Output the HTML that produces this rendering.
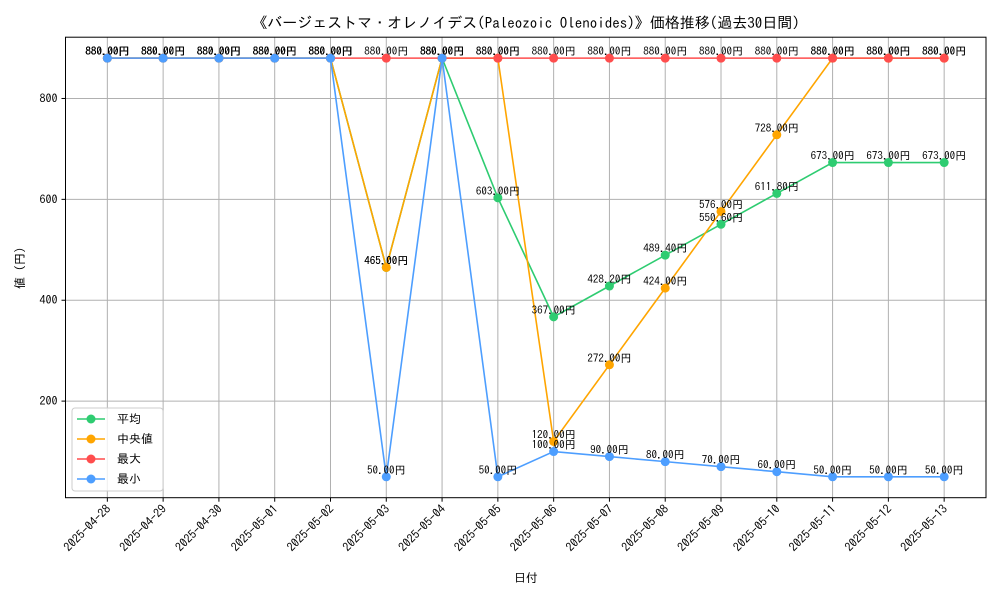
<!DOCTYPE html>
<html><head><meta charset="utf-8"><style>
body{margin:0;background:#fff}
svg{font-family:"IPAGothic","Liberation Sans","Noto Sans CJK JP",sans-serif}
</style></head><body>
<svg id="chart" width="1000" height="600" viewBox="0 0 1000 600" xmlns="http://www.w3.org/2000/svg">
<rect width="1000" height="600" fill="#fff"/>
<text x="526" y="28" text-anchor="middle" font-size="15">《バージェストマ・オレノイデス(Paleozoic Olenoides)》価格推移(過去30日間)</text>
<g id="grid"></g>
<g id="series"></g>
<g id="labels"></g>
<rect x="65.5" y="37.2" width="920.5" height="460.5" fill="none" stroke="#000" stroke-width="1"/>
<g id="axes"></g>
<text transform="translate(24,268) rotate(-90)" text-anchor="middle" font-size="12">値 (円)</text>
<text x="526" y="582" text-anchor="middle" font-size="12">日付</text>
<g id="legend"></g>
</svg>
<script>
const categories=["2025-04-28","2025-04-29","2025-04-30","2025-05-01","2025-05-02","2025-05-03","2025-05-04","2025-05-05","2025-05-06","2025-05-07","2025-05-08","2025-05-09","2025-05-10","2025-05-11","2025-05-12","2025-05-13"];
const avgValues=[880,880,880,880,880,465,880,603,367,428.2,489.4,550.6,611.8,673,673,673];
const medianValues=[880,880,880,880,880,465,880,880,120,272,424,576,728,880,880,880];
const maxValues=[880,880,880,880,880,880,880,880,880,880,880,880,880,880,880,880];
const minValues=[880,880,880,880,880,50,880,50,100,90,80,70,60,50,50,50];
const yTicks=[200,400,600,800];
const seriesNames=["平均","中央値","最大","最小"];
const colors=["#2ecc71","#ffa500","#ff4d4d","#4d9eff"];

const NS="http://www.w3.org/2000/svg";
const L=65.5,R=986,T=37.2,B=497.7;
const allV=[...avgValues,...medianValues,...maxValues,...minValues];
const vmin=Math.min(...allV),vmax=Math.max(...allV),pad=(vmax-vmin)*0.05;
const y0=vmin-pad,y1=vmax+pad;
const n=categories.length,x0=-0.75,x1=n-1+0.75;
const X=i=>L+(i-x0)/(x1-x0)*(R-L);
const Y=v=>B-(v-y0)/(y1-y0)*(B-T);
function mk(tag,attrs,parent){const e=document.createElementNS(NS,tag);for(const k in attrs)e.setAttribute(k,attrs[k]);parent.appendChild(e);return e;}
const grid=document.getElementById('grid'),axes=document.getElementById('axes');
categories.forEach((c,i)=>{
  const g=mk('line',{x1:X(i),x2:X(i),y1:T,y2:B,stroke:'#b0b0b0','stroke-width':1},grid);
  
  
  const t=mk('line',{x1:X(i),x2:X(i),y1:B,y2:B+4,stroke:'#000'},axes);
  
  
  const tx=mk('text',{transform:`translate(${X(i)+4},${B+12}) rotate(-45)`,'text-anchor':'end','font-size':12},axes);
  
  
  tx.textContent=c;
});
yTicks.forEach(v=>{
  const g=mk('line',{x1:L,x2:R,y1:Y(v),y2:Y(v),stroke:'#b0b0b0','stroke-width':1},grid);
  
  
  const t=mk('line',{x1:L-4,x2:L,y1:Y(v),y2:Y(v),stroke:'#000'},axes);
  
  
  const tx=mk('text',{x:L-8,y:Y(v)+4,'text-anchor':'end','font-size':12},axes);
  
  
  tx.textContent=v;
});
const ser=document.getElementById('series'),lab=document.getElementById('labels');
[avgValues,medianValues,maxValues,minValues].forEach((vals,s)=>{
  const p=mk('polyline',{points:vals.map((v,i)=>X(i)+','+Y(v)).join(' '),fill:'none',stroke:colors[s],'stroke-width':1.6},ser);
  
  
  vals.forEach((v,i)=>{
    const c=mk('circle',{cx:X(i),cy:Y(v),r:4.5,fill:colors[s]},ser);
    
    
    const t=mk('text',{x:X(i),y:Y(v)-3,'text-anchor':'middle','font-size':11,fill:'#000'},lab);
    
    
    t.textContent=v.toFixed(2)+'円';
  });
});
const lg=document.getElementById('legend');
const box=mk('rect',{x:72,y:408,width:91,height:83,rx:3,fill:'#fff','fill-opacity':0.8,stroke:'#ccc'},lg);


seriesNames.forEach((nm,s)=>{
  const yy=419+s*20;
  const g=mk('g',{},lg);
  
  
  mk('line',{x1:77,x2:105,y1:yy,y2:yy,stroke:colors[s],'stroke-width':1.6},g);
  mk('circle',{cx:91,cy:yy,r:4.5,fill:colors[s]},g);
  const t=mk('text',{x:117,y:yy+4,'font-size':12},g);
  t.textContent=nm;
});
</script>
</body></html>
